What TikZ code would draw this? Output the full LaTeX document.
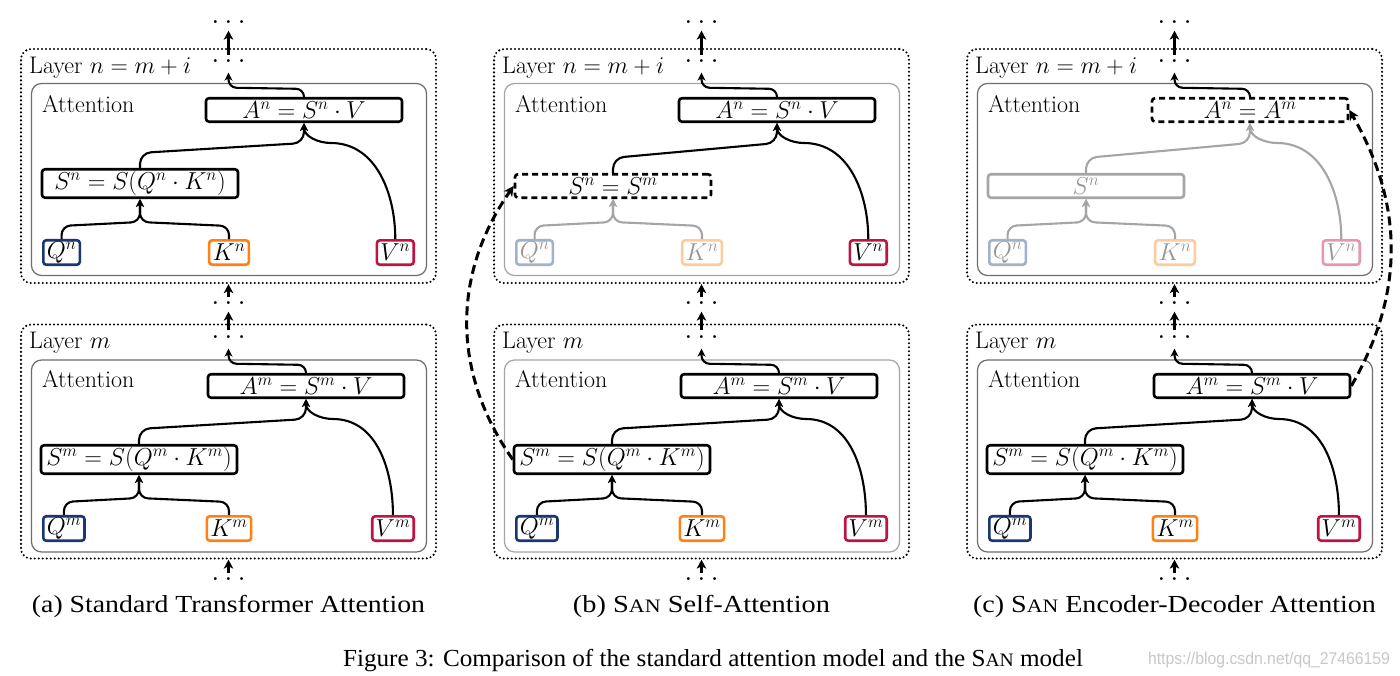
\RequirePackage{fix-cm}
\documentclass[tikz,border=0pt]{standalone}
\usepackage{fontspec}
\usepackage{graphicx}
\usetikzlibrary{arrows.meta,calc}
\newfontfamily\capfont{Liberation Serif}
\newfontfamily\wmfont{Liberation Sans}
\newcommand\fsz[1]{\fontsize{#1}{#1}\selectfont}
\definecolor{qcol}{RGB}{25,55,115}
\definecolor{kcol}{RGB}{255,128,20}
\definecolor{vcol}{RGB}{190,20,65}
\definecolor{qfade}{RGB}{160,178,205}
\definecolor{kfade}{RGB}{255,203,155}
\definecolor{vfade}{RGB}{230,150,180}
\definecolor{fadetxt}{RGB}{150,150,150}
\definecolor{fadeline}{RGB}{165,165,165}
\definecolor{wmcol}{RGB}{200,200,200}
\definecolor{attA}{RGB}{110,110,110}
\definecolor{attB}{RGB}{165,165,165}
\tikzset{
 layerbox/.style={draw, dash pattern=on 0pt off 4pt, line cap=round, line width=2.3pt, rounded corners=10pt, minimum width=415pt, minimum height=234pt, inner sep=0pt},
 attbox/.style={draw=#1, line width=1.2pt, rounded corners=10pt, minimum width=395pt, minimum height=192pt, inner sep=0pt},
 lbl/.style={font=\fsz{24}, inner sep=0pt, anchor=base west},
 ebox/.style={draw, line width=2.6pt, rounded corners=3pt, minimum width=196pt, minimum height=23.5pt, inner xsep=3pt, inner ysep=2pt, font=\fsz{24.5}, anchor=south},
 ibox/.style={draw, line width=2.6pt, rounded corners=3pt, minimum height=24.4pt, inner xsep=3.5pt, inner ysep=1.5pt, font=\fsz{24.5}},
 dotsn/.style={font=\fsz{30}, inner sep=0pt},
 conn/.style={line width=2.1pt, -{Stealth[length=8pt,width=8pt,inset=2.5pt]}},
 bigarr/.style={line width=3.3pt, -{Stealth[length=9pt,width=9.5pt,inset=2.5pt]}},
 xarr/.style={line width=3pt, dash pattern=on 9pt off 5pt, -{Stealth[length=10pt,width=10pt,inset=3pt]}},
 dashbox/.style={dash pattern=on 6pt off 4pt},
 capn/.style={font=\capfont\fsz{24.5}, inner sep=0pt, anchor=base},
}
% frame of the upper layer
\newcommand\topframe[2]{%
 \node[layerbox] (#1Ln) at (228.5,-166) {};
 \node[attbox=#2] (#1In) at (229,-179.5) {};
 \node[lbl] (#1ln) at (29,-73) {Layer $n=m+i$};
 \node[lbl] (#1tn) at (42,-112) {Attention};
 \node[dotsn] (#1dn) at (228.5,-61) {$\ldots$};
 \node[dotsn] (#1dt) at (228.5,-22) {$\ldots$};
 \draw[bigarr, shorten <=4pt, shorten >=7pt] (#1dn) -- (#1dt);
}
% full lower layer
\newcommand\bottomlayer[2]{%
 \node[layerbox] (#1Lm) at (228.5,-441.5) {};
 \node[attbox=#2] (#1Im) at (229,-456) {};
 \node[lbl] (#1lm) at (29,-348) {Layer $m$};
 \node[lbl] (#1tm) at (42,-387) {Attention};
 \node[ebox] (#1Am) at (306,-399) {$A^m=S^m\cdot V$};
 \node[ebox] (#1Sm) at (139,-475) {$S^m=S(Q^m\cdot K^m)$};
 \node[ibox,draw=qcol,anchor=west] (#1Qm) at (42,-528.5) {$Q^m$};
 \node[ibox,draw=kcol] (#1Km) at (229,-528.5) {$K^m$};
 \node[ibox,draw=vcol,anchor=east] (#1Vm) at (415,-528.5) {$V^m$};
 \node[dotsn] (#1dm) at (228.5,-337) {$\ldots$};
 \node[dotsn] (#1dx) at (228.5,-303) {$\ldots$};
 \node[dotsn] (#1d0) at (228.5,-579) {$\ldots$};
 \draw[conn, rounded corners=9pt] (#1Qm.north) -- ++(0,13) -- ($(#1Sm.south)+(0,-23)$) -- (#1Sm.south);
 \draw[conn, rounded corners=9pt] (#1Km.north) -- ++(0,13) -- ($(#1Sm.south)+(0,-23)$) -- (#1Sm.south);
 \draw[conn, rounded corners=11pt] (#1Sm.north) -- ++(0,15) -- ($(#1Am.south)+(0,-20)$) -- (#1Am.south);
 \draw[conn] (#1Vm.north) to[out=90,in=0] ($(#1Am.south)+(27,-20)$) to[out=180,in=-90] (#1Am.south);
 \draw[conn, rounded corners=8pt, shorten >=10pt] (#1Am.north) -- ++(0,8) -- ($(#1dm.south)+(0,-25)$) -- (#1dm.south);
 \draw[bigarr, shorten <=5pt, shorten >=7pt] (#1dm) -- (#1dx);
 \draw[bigarr, shorten <=4pt] (#1dx) -- (#1Ln.south);
 \draw[bigarr, shorten <=4pt] (#1d0) -- (#1Lm.south);
}
\begin{document}
\begin{tikzpicture}[x=1pt,y=1pt]
\fill[white] (0,0) rectangle (1400,-675);
\useasboundingbox (0,0) rectangle (1400,-675);

% ---------------- panel (a)
\begin{scope}
 \topframe{a}{attA}
 \node[ebox] (aAn) at (304,-123) {$A^n=S^n\cdot V$};
 \node[ebox] (aSn) at (140,-199) {$S^n=S(Q^n\cdot K^n)$};
 \node[ibox,draw=qcol,anchor=west] (aQn) at (42,-252.5) {$Q^n$};
 \node[ibox,draw=kcol] (aKn) at (229,-252.5) {$K^n$};
 \node[ibox,draw=vcol,anchor=east] (aVn) at (415,-252.5) {$V^n$};
 \draw[conn, rounded corners=9pt] (aQn.north) -- ++(0,13) -- ($(aSn.south)+(0,-23)$) -- (aSn.south);
 \draw[conn, rounded corners=9pt] (aKn.north) -- ++(0,13) -- ($(aSn.south)+(0,-23)$) -- (aSn.south);
 \draw[conn, rounded corners=11pt] (aSn.north) -- ++(0,15) -- ($(aAn.south)+(0,-20)$) -- (aAn.south);
 \draw[conn] (aVn.north) to[out=90,in=0] ($(aAn.south)+(27,-20)$) to[out=180,in=-90] (aAn.south);
 \draw[conn, rounded corners=8pt, shorten >=10pt] (aAn.north) -- ++(0,8) -- ($(adn.south)+(0,-25)$) -- (adn.south);
 \bottomlayer{a}{attA}
 \node[capn] (acap) at (228.5,-612) {\resizebox{393pt}{\height}{(a) Standard Transformer Attention}};
\end{scope}

% ---------------- panel (b)
\begin{scope}[shift={(473,0)}]
 \topframe{b}{attB}
 \node[ebox] (bAn) at (304,-123) {$A^n=S^n\cdot V$};
 \node[ebox,dashbox] (bSn) at (140,-199) {$S^n=S^m$};
 \node[ibox,draw=qfade,text=fadetxt,anchor=west] (bQn) at (42,-252.5) {$Q^n$};
 \node[ibox,draw=kfade,text=fadetxt] (bKn) at (229,-252.5) {$K^n$};
 \node[ibox,draw=vcol,anchor=east] (bVn) at (415,-252.5) {$V^n$};
 \draw[conn, fadeline, rounded corners=9pt] (bQn.north) -- ++(0,13) -- ($(bSn.south)+(0,-23)$) -- (bSn.south);
 \draw[conn, fadeline, rounded corners=9pt] (bKn.north) -- ++(0,13) -- ($(bSn.south)+(0,-23)$) -- (bSn.south);
 \draw[conn, rounded corners=11pt] (bSn.north) -- ++(0,15) -- ($(bAn.south)+(0,-20)$) -- (bAn.south);
 \draw[conn] (bVn.north) to[out=90,in=0] ($(bAn.south)+(27,-20)$) to[out=180,in=-90] (bAn.south);
 \draw[conn, rounded corners=8pt, shorten >=10pt] (bAn.north) -- ++(0,8) -- ($(bdn.south)+(0,-25)$) -- (bdn.south);
 \bottomlayer{b}{attB}
 \draw[xarr] (bSm.west) to[out=125,in=235] (bSn.west);
 \node[capn] (bcap) at (228.5,-612) {\resizebox{257pt}{\height}{(b) S{\fsz{19}AN} Self-Attention}};
\end{scope}

% ---------------- panel (c)
\begin{scope}[shift={(946,0)}]
 \topframe{c}{attA}
 \node[ebox,dashbox] (cAn) at (304,-123) {$A^n=A^m$};
 \node[ebox,draw=fadeline,text=fadetxt] (cSn) at (140,-199) {$S^n$};
 \node[ibox,draw=qfade,text=fadetxt,anchor=west] (cQn) at (42,-252.5) {$Q^n$};
 \node[ibox,draw=kfade,text=fadetxt] (cKn) at (229,-252.5) {$K^n$};
 \node[ibox,draw=vfade,text=fadetxt,anchor=east] (cVn) at (415,-252.5) {$V^n$};
 \draw[conn, fadeline, rounded corners=9pt] (cQn.north) -- ++(0,13) -- ($(cSn.south)+(0,-23)$) -- (cSn.south);
 \draw[conn, fadeline, rounded corners=9pt] (cKn.north) -- ++(0,13) -- ($(cSn.south)+(0,-23)$) -- (cSn.south);
 \draw[conn, fadeline, rounded corners=11pt] (cSn.north) -- ++(0,15) -- ($(cAn.south)+(0,-20)$) -- (cAn.south);
 \draw[conn, fadeline] (cVn.north) to[out=90,in=0] ($(cAn.south)+(27,-20)$) to[out=180,in=-90] (cAn.south);
 \draw[conn, rounded corners=8pt, shorten >=10pt] (cAn.north) -- ++(0,8) -- ($(cdn.south)+(0,-25)$) -- (cdn.south);
 \bottomlayer{c}{attA}
 \draw[xarr] (cAm.east) to[out=60,in=-60] (cAn.east);
 \node[capn] (ccap) at (228.5,-612) {\resizebox{403pt}{\height}{(c) S{\fsz{19}AN} Encoder-Decoder Attention}};
\end{scope}

% ---------------- figure caption and watermark
\node[font=\capfont\fsz{24.5}, inner sep=0pt, anchor=base] (figcap) at (713,-666) {\resizebox{740pt}{\height}{Figure 3: Comparison of the standard attention model and the S{\fsz{19}AN} model}};
\node[font=\wmfont\fsz{17}, text=wmcol, inner sep=0pt, anchor=base] (wm) at (1269,-664) {\resizebox{242pt}{\height}{https://blog.csdn.net/qq\_27466159}};
\end{tikzpicture}
\end{document}
